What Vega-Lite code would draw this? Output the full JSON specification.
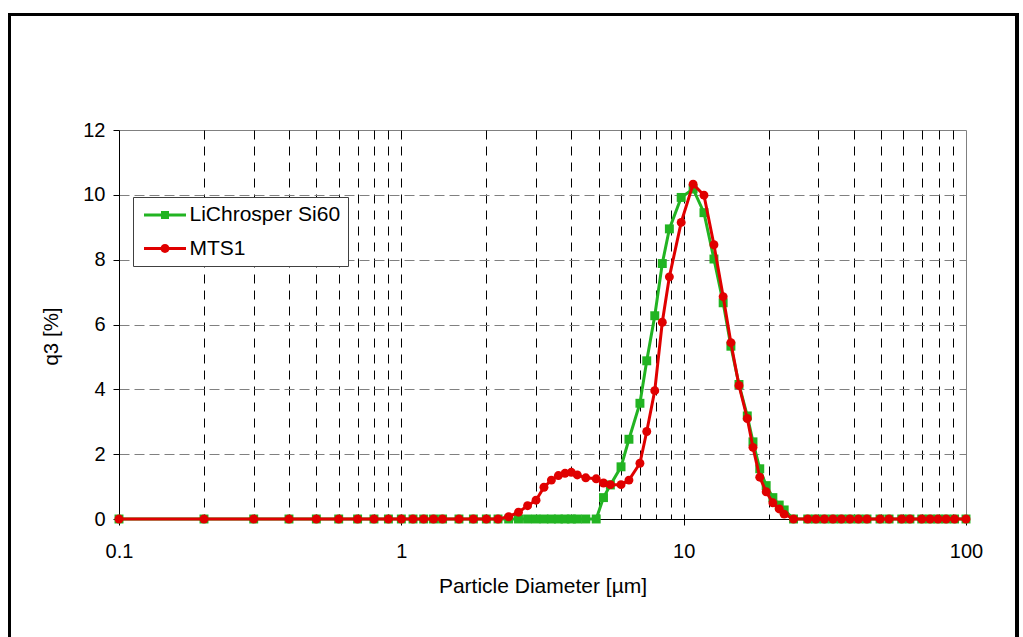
{
  "$schema": "https://vega.github.io/schema/vega-lite/v6.json",
  "width": 847,
  "height": 389,
  "autosize": {"type": "none"},
  "padding": {"left": 119, "top": 130, "right": 57, "bottom": 118},
  "background": "white",
  "config": {
    "font": "Liberation Sans",
    "view": {"stroke": "#808080", "strokeWidth": 1},
    "legend": {
      "orient": "none",
      "legendX": 14,
      "legendY": 67,
      "padding": 7.5,
      "rowPadding": 11.5,
      "symbolSize": 256,
      "labelOffset": 28,
      "labelFontSize": 21,
      "labelColor": "black",
      "labelFont": "Liberation Sans",
      "strokeColor": "#404040",
      "fillColor": "white",
      "cornerRadius": 0,
      "symbolStrokeWidth": 0
    }
  },
  "data": {
    "values": [
      {"d": 0.1, "s": "LiChrosper Si60", "q": 0},
      {"d": 0.2, "s": "LiChrosper Si60", "q": 0},
      {"d": 0.3, "s": "LiChrosper Si60", "q": 0},
      {"d": 0.4, "s": "LiChrosper Si60", "q": 0},
      {"d": 0.5, "s": "LiChrosper Si60", "q": 0},
      {"d": 0.6, "s": "LiChrosper Si60", "q": 0},
      {"d": 0.7, "s": "LiChrosper Si60", "q": 0},
      {"d": 0.8, "s": "LiChrosper Si60", "q": 0},
      {"d": 0.9, "s": "LiChrosper Si60", "q": 0},
      {"d": 1.0, "s": "LiChrosper Si60", "q": 0},
      {"d": 1.1, "s": "LiChrosper Si60", "q": 0},
      {"d": 1.2, "s": "LiChrosper Si60", "q": 0},
      {"d": 1.3, "s": "LiChrosper Si60", "q": 0},
      {"d": 1.4, "s": "LiChrosper Si60", "q": 0},
      {"d": 1.6, "s": "LiChrosper Si60", "q": 0},
      {"d": 1.8, "s": "LiChrosper Si60", "q": 0},
      {"d": 2.0, "s": "LiChrosper Si60", "q": 0},
      {"d": 2.2, "s": "LiChrosper Si60", "q": 0},
      {"d": 2.4, "s": "LiChrosper Si60", "q": 0},
      {"d": 2.6, "s": "LiChrosper Si60", "q": 0},
      {"d": 2.8, "s": "LiChrosper Si60", "q": 0},
      {"d": 3.0, "s": "LiChrosper Si60", "q": 0},
      {"d": 3.2, "s": "LiChrosper Si60", "q": 0},
      {"d": 3.4, "s": "LiChrosper Si60", "q": 0},
      {"d": 3.6, "s": "LiChrosper Si60", "q": 0},
      {"d": 3.8, "s": "LiChrosper Si60", "q": 0},
      {"d": 4.0, "s": "LiChrosper Si60", "q": 0},
      {"d": 4.2, "s": "LiChrosper Si60", "q": 0},
      {"d": 4.5, "s": "LiChrosper Si60", "q": 0},
      {"d": 4.9, "s": "LiChrosper Si60", "q": 0},
      {"d": 5.2, "s": "LiChrosper Si60", "q": 0.66},
      {"d": 5.5, "s": "LiChrosper Si60", "q": 1.05},
      {"d": 6.0, "s": "LiChrosper Si60", "q": 1.61},
      {"d": 6.4, "s": "LiChrosper Si60", "q": 2.46},
      {"d": 7.0, "s": "LiChrosper Si60", "q": 3.57},
      {"d": 7.4, "s": "LiChrosper Si60", "q": 4.88},
      {"d": 7.9, "s": "LiChrosper Si60", "q": 6.27},
      {"d": 8.4, "s": "LiChrosper Si60", "q": 7.88},
      {"d": 8.9, "s": "LiChrosper Si60", "q": 8.95},
      {"d": 9.8, "s": "LiChrosper Si60", "q": 9.92},
      {"d": 10.8, "s": "LiChrosper Si60", "q": 10.18},
      {"d": 11.8, "s": "LiChrosper Si60", "q": 9.45},
      {"d": 12.8, "s": "LiChrosper Si60", "q": 8.02},
      {"d": 13.8, "s": "LiChrosper Si60", "q": 6.67},
      {"d": 14.7, "s": "LiChrosper Si60", "q": 5.33},
      {"d": 15.7, "s": "LiChrosper Si60", "q": 4.15},
      {"d": 16.8, "s": "LiChrosper Si60", "q": 3.18},
      {"d": 17.6, "s": "LiChrosper Si60", "q": 2.38},
      {"d": 18.6, "s": "LiChrosper Si60", "q": 1.55},
      {"d": 19.6, "s": "LiChrosper Si60", "q": 1.03},
      {"d": 20.7, "s": "LiChrosper Si60", "q": 0.66},
      {"d": 21.8, "s": "LiChrosper Si60", "q": 0.43},
      {"d": 22.7, "s": "LiChrosper Si60", "q": 0.28},
      {"d": 24.5, "s": "LiChrosper Si60", "q": 0},
      {"d": 27.5, "s": "LiChrosper Si60", "q": 0},
      {"d": 29.4, "s": "LiChrosper Si60", "q": 0},
      {"d": 31.5, "s": "LiChrosper Si60", "q": 0},
      {"d": 33.8, "s": "LiChrosper Si60", "q": 0},
      {"d": 36.2, "s": "LiChrosper Si60", "q": 0},
      {"d": 38.8, "s": "LiChrosper Si60", "q": 0},
      {"d": 41.6, "s": "LiChrosper Si60", "q": 0},
      {"d": 44.6, "s": "LiChrosper Si60", "q": 0},
      {"d": 49.6, "s": "LiChrosper Si60", "q": 0},
      {"d": 53.4, "s": "LiChrosper Si60", "q": 0},
      {"d": 59.2, "s": "LiChrosper Si60", "q": 0},
      {"d": 63.3, "s": "LiChrosper Si60", "q": 0},
      {"d": 69.7, "s": "LiChrosper Si60", "q": 0},
      {"d": 74.6, "s": "LiChrosper Si60", "q": 0},
      {"d": 79.6, "s": "LiChrosper Si60", "q": 0},
      {"d": 85.0, "s": "LiChrosper Si60", "q": 0},
      {"d": 91.1, "s": "LiChrosper Si60", "q": 0},
      {"d": 100, "s": "LiChrosper Si60", "q": 0},
      {"d": 0.1, "s": "MTS1", "q": 0},
      {"d": 0.2, "s": "MTS1", "q": 0},
      {"d": 0.3, "s": "MTS1", "q": 0},
      {"d": 0.4, "s": "MTS1", "q": 0},
      {"d": 0.5, "s": "MTS1", "q": 0},
      {"d": 0.6, "s": "MTS1", "q": 0},
      {"d": 0.7, "s": "MTS1", "q": 0},
      {"d": 0.8, "s": "MTS1", "q": 0},
      {"d": 0.9, "s": "MTS1", "q": 0},
      {"d": 1.0, "s": "MTS1", "q": 0},
      {"d": 1.1, "s": "MTS1", "q": 0},
      {"d": 1.2, "s": "MTS1", "q": 0},
      {"d": 1.3, "s": "MTS1", "q": 0},
      {"d": 1.4, "s": "MTS1", "q": 0},
      {"d": 1.6, "s": "MTS1", "q": 0},
      {"d": 1.8, "s": "MTS1", "q": 0},
      {"d": 2.0, "s": "MTS1", "q": 0},
      {"d": 2.2, "s": "MTS1", "q": 0},
      {"d": 2.4, "s": "MTS1", "q": 0.07},
      {"d": 2.6, "s": "MTS1", "q": 0.21},
      {"d": 2.8, "s": "MTS1", "q": 0.41},
      {"d": 3.0, "s": "MTS1", "q": 0.58},
      {"d": 3.2, "s": "MTS1", "q": 0.98},
      {"d": 3.4, "s": "MTS1", "q": 1.2},
      {"d": 3.6, "s": "MTS1", "q": 1.34},
      {"d": 3.8, "s": "MTS1", "q": 1.41},
      {"d": 4.0, "s": "MTS1", "q": 1.44},
      {"d": 4.2, "s": "MTS1", "q": 1.36},
      {"d": 4.5, "s": "MTS1", "q": 1.27},
      {"d": 4.9, "s": "MTS1", "q": 1.24},
      {"d": 5.2, "s": "MTS1", "q": 1.11},
      {"d": 5.5, "s": "MTS1", "q": 1.06},
      {"d": 6.0, "s": "MTS1", "q": 1.06},
      {"d": 6.4, "s": "MTS1", "q": 1.2},
      {"d": 7.0, "s": "MTS1", "q": 1.72},
      {"d": 7.4, "s": "MTS1", "q": 2.7},
      {"d": 7.9, "s": "MTS1", "q": 3.96},
      {"d": 8.4, "s": "MTS1", "q": 6.07},
      {"d": 8.9, "s": "MTS1", "q": 7.47},
      {"d": 9.8, "s": "MTS1", "q": 9.15},
      {"d": 10.8, "s": "MTS1", "q": 10.33},
      {"d": 11.8, "s": "MTS1", "q": 9.99},
      {"d": 12.8, "s": "MTS1", "q": 8.46},
      {"d": 13.8, "s": "MTS1", "q": 6.86},
      {"d": 14.7, "s": "MTS1", "q": 5.44},
      {"d": 15.7, "s": "MTS1", "q": 4.12},
      {"d": 16.8, "s": "MTS1", "q": 3.1},
      {"d": 17.6, "s": "MTS1", "q": 2.21},
      {"d": 18.6, "s": "MTS1", "q": 1.29},
      {"d": 19.6, "s": "MTS1", "q": 0.84},
      {"d": 20.7, "s": "MTS1", "q": 0.5},
      {"d": 21.8, "s": "MTS1", "q": 0.31},
      {"d": 22.7, "s": "MTS1", "q": 0.15},
      {"d": 24.5, "s": "MTS1", "q": 0},
      {"d": 27.5, "s": "MTS1", "q": 0},
      {"d": 29.4, "s": "MTS1", "q": 0},
      {"d": 31.5, "s": "MTS1", "q": 0},
      {"d": 33.8, "s": "MTS1", "q": 0},
      {"d": 36.2, "s": "MTS1", "q": 0},
      {"d": 38.8, "s": "MTS1", "q": 0},
      {"d": 41.6, "s": "MTS1", "q": 0},
      {"d": 44.6, "s": "MTS1", "q": 0},
      {"d": 49.6, "s": "MTS1", "q": 0},
      {"d": 53.4, "s": "MTS1", "q": 0},
      {"d": 59.2, "s": "MTS1", "q": 0},
      {"d": 63.3, "s": "MTS1", "q": 0},
      {"d": 69.7, "s": "MTS1", "q": 0},
      {"d": 74.6, "s": "MTS1", "q": 0},
      {"d": 79.6, "s": "MTS1", "q": 0},
      {"d": 85.0, "s": "MTS1", "q": 0},
      {"d": 91.1, "s": "MTS1", "q": 0},
      {"d": 100, "s": "MTS1", "q": 0}
    ]
  },
  "layer": [
    {
      "mark": {"type": "rect", "fill": "transparent", "stroke": "black", "strokeWidth": 2.5, "clip": false},
      "encoding": {
        "x": {"datum": 0.0409, "type": "quantitative", "scale": {"type": "log", "domain": [0.1, 100], "nice": false}},
        "x2": {"datum": 151.6},
        "y": {"datum": 15.57, "type": "quantitative", "scale": {"domain": [0, 12], "nice": false, "zero": false}},
        "y2": {"datum": -5}
      }
    },
    {
      "transform": [{"filter": "datum.s === 'LiChrosper Si60'"}],
      "mark": {"type": "line", "strokeWidth": 3},
      "encoding": {
        "x": {
          "field": "d", "type": "quantitative",
          "scale": {"type": "log", "domain": [0.1, 100], "nice": false},
          "axis": {
            "values": [0.1, 0.2, 0.3, 0.4, 0.5, 0.6, 0.7, 0.8, 0.9, 1, 2, 3, 4, 5, 6, 7, 8, 9, 10, 20, 30, 40, 50, 60, 70, 80, 90, 100],
            "format": "~g",
            "labelExpr": "abs(log(datum.value)/LN10 - round(log(datum.value)/LN10)) < 0.001 ? datum.label : ''",
            "grid": true,
            "gridColor": "black",
            "gridDash": [9, 7],
            "gridWidth": 1,
            "gridOpacity": {"condition": {"test": "datum.value <= 0.1001 || datum.value >= 99.9", "value": 0}, "value": 1},
            "tickOpacity": {"condition": {"test": "abs(log(datum.value)/LN10 - round(log(datum.value)/LN10)) < 0.001", "value": 1}, "value": 0},
            "tickSize": 6,
            "tickColor": "black",
            "domainColor": "black",
            "labelFontSize": 20,
            "labelColor": "black",
            "labelPadding": 16,
            "labelFlush": false,
            "labelOverlap": false,
            "title": "Particle Diameter [µm]",
            "titleFontSize": 21,
            "titleFontWeight": "normal",
            "titleColor": "black",
            "titleY": 56,
            "titleBaseline": "top"
          }
        },
        "y": {
          "field": "q", "type": "quantitative",
          "scale": {"domain": [0, 12], "nice": false, "zero": false},
          "axis": {
            "values": [0, 2, 4, 6, 8, 10, 12],
            "grid": true,
            "gridColor": "#808080",
            "gridDash": [10, 5],
            "gridWidth": 1,
            "gridOpacity": {"condition": {"test": "datum.value == 0 || datum.value == 12", "value": 0}, "value": 1},
            "tickSize": 6,
            "tickColor": "black",
            "domainColor": "black",
            "labelFontSize": 20,
            "labelColor": "black",
            "labelPadding": 8,
            "title": "q3 [%]",
            "titleFontSize": 20.5,
            "titleFontWeight": "normal",
            "titleColor": "black",
            "titleX": -68,
            "titleY": 206,
            "titleAlign": "center",
            "titleBaseline": "middle",
            "titleAngle": 270
          }
        },
        "color": {
          "field": "s", "type": "nominal",
          "scale": {"domain": ["LiChrosper Si60", "MTS1"], "range": ["#22b422", "#e00000"]},
          "legend": {
            "title": null,
            "encode": {
              "symbols": {
                "update": {
                  "shape": {"signal": "datum.value === 'MTS1' ? 'M-0.875,-0.19H4.375V0.19H-0.875Z M2.31,0A0.56,0.56 0 1,1 1.19,0A0.56,0.56 0 1,1 2.31,0Z' : 'M-0.875,-0.19H4.375V0.19H-0.875Z M1.25,-0.5H2.25V0.5H1.25Z'"},
                  "fill": {"signal": "datum.value === 'MTS1' ? '#e00000' : '#22b422'"},
                  "stroke": {"value": "transparent"},
                  "strokeWidth": {"value": 0},
                  "opacity": {"value": 1}
                }
              }
            }
          }
        }
      }
    },
    {
      "transform": [{"filter": "datum.s === 'LiChrosper Si60'"}],
      "mark": {"type": "point", "shape": "square", "filled": true, "size": 80, "opacity": 1},
      "encoding": {
        "x": {"field": "d", "type": "quantitative", "scale": {"type": "log", "domain": [0.1, 100], "nice": false}},
        "y": {"field": "q", "type": "quantitative", "scale": {"domain": [0, 12], "nice": false, "zero": false}},
        "color": {"field": "s", "type": "nominal", "scale": {"domain": ["LiChrosper Si60", "MTS1"], "range": ["#22b422", "#e00000"]}}
      }
    },
    {
      "transform": [{"filter": "datum.s === 'MTS1'"}],
      "mark": {"type": "line", "strokeWidth": 3},
      "encoding": {
        "x": {"field": "d", "type": "quantitative", "scale": {"type": "log", "domain": [0.1, 100], "nice": false}},
        "y": {"field": "q", "type": "quantitative", "scale": {"domain": [0, 12], "nice": false, "zero": false}},
        "color": {"field": "s", "type": "nominal", "scale": {"domain": ["LiChrosper Si60", "MTS1"], "range": ["#22b422", "#e00000"]}}
      }
    },
    {
      "transform": [{"filter": "datum.s === 'MTS1'"}],
      "mark": {"type": "point", "shape": "circle", "filled": true, "size": 80, "opacity": 1},
      "encoding": {
        "x": {"field": "d", "type": "quantitative", "scale": {"type": "log", "domain": [0.1, 100], "nice": false}},
        "y": {"field": "q", "type": "quantitative", "scale": {"domain": [0, 12], "nice": false, "zero": false}},
        "color": {"field": "s", "type": "nominal", "scale": {"domain": ["LiChrosper Si60", "MTS1"], "range": ["#22b422", "#e00000"]}}
      }
    }
  ]
}
